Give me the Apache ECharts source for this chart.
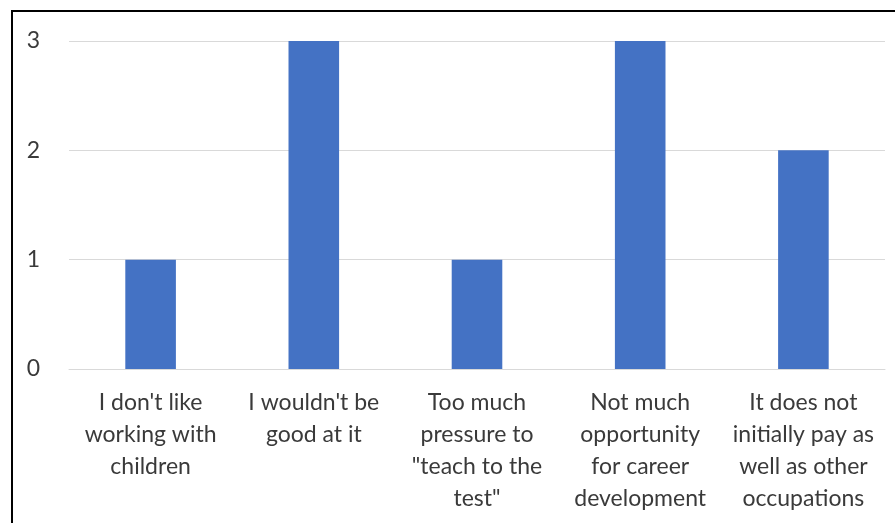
<!DOCTYPE html>
<html><head><meta charset="utf-8">
<script src="https://cdn.jsdelivr.net/npm/echarts@6/dist/echarts.min.js"></script>
<style>html,body{margin:0;padding:0;background:#fff}#c{width:895px;height:523px}</style>
</head><body><div id="c"></div>
<script>
var categories = [
  "I don't like\nworking with\nchildren",
  "I wouldn't be\ngood at it",
  "Too much\npressure to\n\"teach to the\ntest\"",
  "Not much\nopportunity\nfor career\ndevelopment",
  "It does not\ninitially pay as\nwell as other\noccupations"
];
var values = [1, 3, 1, 3, 2];

var chart = echarts.init(document.getElementById('c'));
chart.setOption({
  animation: false,
  graphic: [{
    type: 'polyline',
    shape: { points: [[12, 523], [12, 11], [895, 11]] },
    style: { stroke: '#000', lineWidth: 2, fill: null }
  }],
  grid: { left: 69, right: 10, top: 41, bottom: 154 },
  xAxis: {
    type: 'category',
    data: categories,
    axisLine: { lineStyle: { color: '#d9d9d9', width: 1 } },
    axisTick: { show: false },
    axisLabel: {
      interval: 0, margin: 18, fontSize: 23, lineHeight: 32,
      color: '#3a3a3a', fontFamily: 'Lato'
    }
  },
  yAxis: {
    type: 'value', min: 0, max: 3, interval: 1,
    axisLine: { show: false }, axisTick: { show: false },
    splitLine: { lineStyle: { color: '#d9d9d9', width: 1 } },
    axisLabel: { margin: 29, fontSize: 23, color: '#3a3a3a', fontFamily: 'Lato' }
  },
  series: [{
    type: 'bar', data: values, barWidth: '31%',
    itemStyle: { color: '#4472C4' }
  }]
});
</script></body></html>
